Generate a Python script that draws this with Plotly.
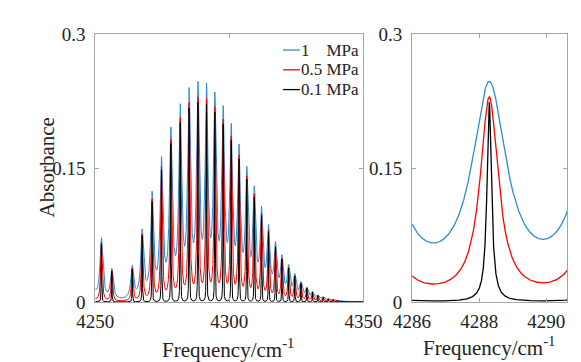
import numpy as np
import plotly.graph_objects as go

# ---------------- data ----------------
series_names = ["1\u00a0\u00a0\u00a0\u00a0MPa", "0.5 MPa", "0.1 MPa"]
# absorption line centres (cm^-1) of the CO 2-0 band lines seen in the picture
line_centers = [4244.3, 4248.3, 4252.3, 4256.2, 4263.8, 4267.5, 4271.2, 4274.7,
                4278.2, 4281.7, 4285.0, 4288.3, 4291.5, 4294.6, 4297.7, 4300.7,
                4303.6, 4306.5, 4309.3, 4312.0, 4314.6, 4317.2, 4319.6, 4322.1,
                4324.4, 4326.7, 4328.9, 4331.0, 4333.0, 4335.0, 4336.9, 4338.7,
                4340.4, 4342.1]
# peak absorbance of each line at 1 MPa (read from blue tops)
peak_tops_1mpa = [0.09, 0.07, 0.072, 0.038, 0.041, 0.082, 0.124, 0.163,
                  0.196, 0.222, 0.240, 0.247, 0.245, 0.235, 0.220, 0.200,
                  0.177, 0.152, 0.130, 0.107, 0.087, 0.068, 0.053, 0.042,
                  0.032, 0.023, 0.017, 0.012, 0.008, 0.006, 0.004, 0.003,
                  0.002, 0.001]
# peak height of each series relative to the 1 MPa series
peak_ratio = [1.0, 0.93, 0.905]
# Lorentzian half widths (cm^-1) per pressure
half_widths = [0.62, 0.33, 0.08]
colors = ["#2e8bcf", "#ff0000", "#000000"]

x_range_left = [4250, 4350]
x_range_right = [4286, 4290.63]
x_ticks_left = [4250, 4300, 4350]
x_ticks_right = [4286, 4288, 4290]
y_ticks = [0, 0.15, 0.3]
y_tick_text = ["0", "0.15", "0.3"]


def spectrum(x, g, tops):
    c = np.array(line_centers)
    M = g ** 2 / ((c[:, None] - c[None, :]) ** 2 + g ** 2)
    a = np.clip(np.linalg.solve(M, np.array(tops)), 0, None)
    return (a[None, :] * g ** 2 / ((x[:, None] - c[None, :]) ** 2 + g ** 2)).sum(axis=1)


x_left = np.linspace(x_range_left[0], x_range_left[1], 10001)
x_right = np.linspace(x_range_right[0], x_range_right[1], 4001)

fig = go.Figure()
for name, r, g, col in zip(series_names, peak_ratio, half_widths, colors):
    tops = [r * t for t in peak_tops_1mpa]
    fig.add_trace(go.Scatter(x=x_left, y=spectrum(x_left, g, tops), mode="lines",
                             line=dict(color=col, width=1.0), name=name,
                             xaxis="x", yaxis="y", showlegend=False))
for name, r, g, col in zip(series_names, peak_ratio, half_widths, colors):
    tops = [r * t for t in peak_tops_1mpa]
    fig.add_trace(go.Scatter(x=x_right, y=spectrum(x_right, g, tops), mode="lines",
                             line=dict(color=col, width=1.3), name=name,
                             xaxis="x2", yaxis="y2", showlegend=False))

W, H = 581, 362
axcol = "#a6a6a6"
SERIF = "Liberation Serif, Times New Roman, serif"
tickfont = dict(family=SERIF, size=19, color="#222222")
common = dict(ticks="inside", ticklen=4, tickcolor=axcol, showline=True,
              linecolor=axcol, linewidth=1, mirror="ticks", showgrid=False,
              zeroline=False, tickfont=tickfont)
ydom = [(H - 301.5) / H, (H - 17) / H]

fig.update_layout(
    width=W, height=H, margin=dict(l=0, r=0, t=0, b=0),
    paper_bgcolor="white", plot_bgcolor="white", showlegend=False,
    font=dict(family=SERIF),
    xaxis=dict(domain=[73 / W, 360 / W], range=x_range_left, tickvals=x_ticks_left,
               anchor="y", ticklabelstandoff=2, **common),
    yaxis=dict(domain=ydom, range=[0, 0.3], tickvals=y_ticks, ticktext=y_tick_text,
               anchor="x", ticklabelstandoff=5, **common),
    xaxis2=dict(domain=[412 / W, 578.3 / W], range=x_range_right, tickvals=x_ticks_right,
                anchor="y2", ticklabelstandoff=2, **common),
    yaxis2=dict(domain=ydom, range=[0, 0.3], tickvals=y_ticks, ticktext=y_tick_text,
                anchor="x2", ticklabelstandoff=5, **common),
)

titlefont = dict(family=SERIF, size=21, color="#222222")
ann = [
    dict(x=21 / W, y=(H - 159) / H, text="Absorbance", textangle=-90, showarrow=False,
         xref="paper", yref="paper", font=titlefont, xanchor="center", yanchor="middle"),
    dict(x=215 / W, y=(H - 351) / H, text="Frequency/cm<sup>-1</sup>", showarrow=False,
         xref="paper", yref="paper", font=titlefont, xanchor="center", yanchor="middle"),
    dict(x=494 / W, y=(H - 349) / H, text="Frequency/cm<sup>-1</sup>", showarrow=False,
         xref="paper", yref="paper", font=titlefont, xanchor="center", yanchor="middle"),
]
legfont = dict(family=SERIF, size=17, color="#222222")
leg_y = [34, 55, 76]
shapes = []
for name, col, yy in zip(series_names, colors, leg_y):
    shapes.append(dict(type="line", xref="paper", yref="paper", x0=274 / W, x1=292 / W,
                       y0=(H - yy) / H, y1=(H - yy) / H, line=dict(color=col, width=1.3)))
    ann.append(dict(x=291 / W, y=(H - yy) / H, text=name, showarrow=False, xref="paper",
                    yref="paper", font=legfont, xanchor="left", yanchor="middle"))
fig.update_layout(annotations=ann, shapes=shapes)

fig.write_html("out.html")
